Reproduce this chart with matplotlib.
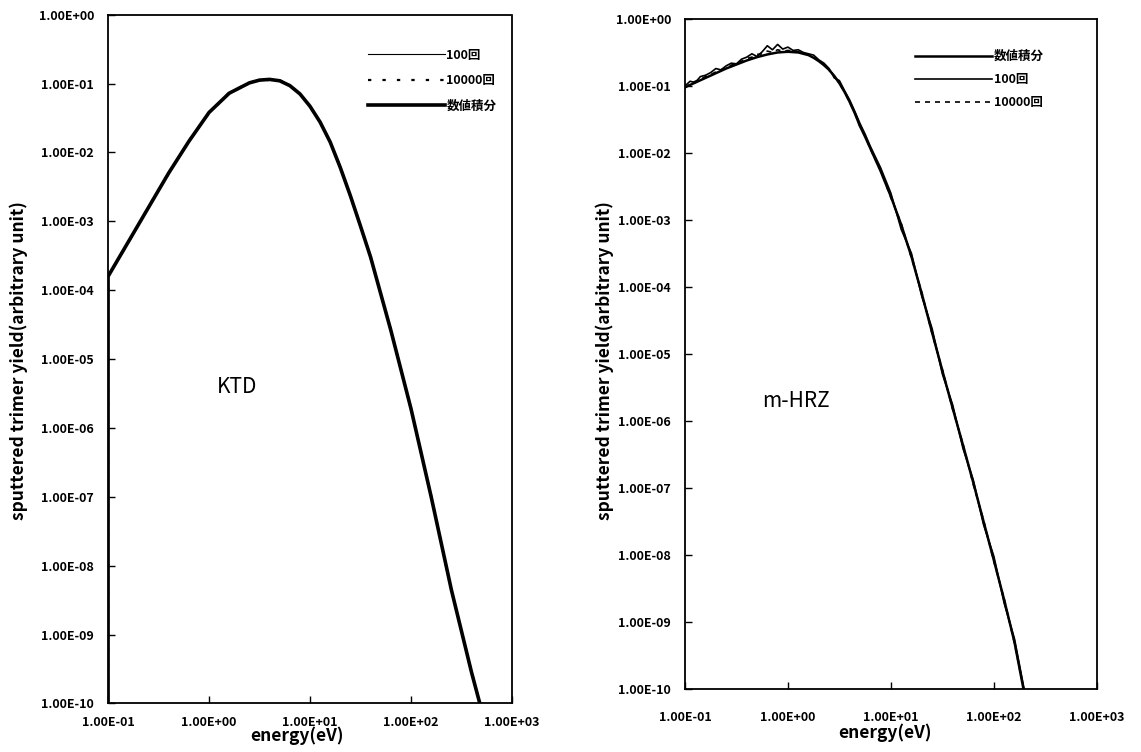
import matplotlib
matplotlib.use("Agg")
import matplotlib.pyplot as plt
import numpy as np
from matplotlib.ticker import FuncFormatter, LogLocator, NullLocator

plt.rcParams["font.family"] = ["Noto Sans CJK JP", "DejaVu Sans"]

# --- KTD (values read as log10) ---
ktd_loge = [-1.0, -1.0, -0.8, -0.6, -0.4, -0.2, 0.0, 0.2, 0.4, 0.5, 0.6, 0.7,
            0.8, 0.9, 1.0, 1.1, 1.2, 1.3, 1.4, 1.5, 1.6, 1.8, 2.0, 2.2, 2.4,
            2.6, 2.7]
ktd_num = [-11.0, -3.80, -3.30, -2.80, -2.30, -1.84, -1.42, -1.14, -0.99, -0.95,
           -0.94, -0.96, -1.03, -1.15, -1.33, -1.56, -1.85, -2.22, -2.63, -3.07,
           -3.52, -4.58, -5.72, -7.00, -8.35, -9.55, -10.10]
ktd_100 = [-11.0, -3.81, -3.29, -2.81, -2.29, -1.85, -1.41, -1.15, -0.98, -0.96,
           -0.93, -0.97, -1.02, -1.16, -1.32, -1.57, -1.84, -2.23, -2.62, -3.08,
           -3.51, -4.59, -5.71, -7.01, -8.34, -9.56, -10.10]
ktd_10000 = [-11.0, -3.80, -3.31, -2.79, -2.31, -1.83, -1.43, -1.13, -0.99, -0.94,
             -0.95, -0.95, -1.04, -1.14, -1.34, -1.55, -1.86, -2.21, -2.64, -3.06,
             -3.53, -4.57, -5.73, -6.99, -8.36, -9.54, -10.10]

# --- m-HRZ (values read as log10) ---
hrz_loge = [-1.00, -0.95, -0.90, -0.85, -0.80, -0.75, -0.70, -0.65, -0.60, -0.55,
            -0.50, -0.45, -0.40, -0.35, -0.30, -0.25, -0.20, -0.15, -0.10, -0.05,
            0.00, 0.05, 0.10, 0.15, 0.20, 0.25, 0.30, 0.35, 0.40, 0.45,
            0.50, 0.55, 0.60, 0.65, 0.70, 0.75, 0.80, 0.90, 1.00, 1.10,
            1.20, 1.30, 1.40, 1.50, 1.60, 1.70, 1.80, 1.90, 2.00, 2.10,
            2.20, 2.30]
hrz_num = [-1.02, -0.985, -0.95, -0.915, -0.88, -0.845, -0.81, -0.775, -0.74, -0.71,
           -0.68, -0.65, -0.62, -0.595, -0.57, -0.55, -0.53, -0.515, -0.50, -0.495,
           -0.49, -0.495, -0.50, -0.52, -0.54, -0.58, -0.63, -0.69, -0.76, -0.85,
           -0.96, -1.09, -1.24, -1.41, -1.60, -1.76, -1.93, -2.27, -2.65, -3.07,
           -3.55, -4.10, -4.68, -5.25, -5.81, -6.36, -6.92, -7.50, -8.08, -8.67,
           -9.30, -10.10]
hrz_100 = [-1.00, -0.93, -0.95, -0.86, -0.84, -0.80, -0.74, -0.76, -0.70, -0.66,
           -0.67, -0.60, -0.57, -0.52, -0.56, -0.49, -0.40, -0.46, -0.38, -0.45,
           -0.42, -0.47, -0.46, -0.50, -0.52, -0.54, -0.61, -0.66, -0.74, -0.88,
           -0.92, -1.07, -1.21, -1.38, -1.56, -1.72, -1.90, -2.22, -2.60, -3.14,
           -3.50, -4.14, -4.62, -5.30, -5.76, -6.41, -6.88, -7.55, -8.02, -8.72,
           -9.25, -10.05]
hrz_10000 = [-1.03, -0.97, -0.93, -0.90, -0.86, -0.83, -0.79, -0.76, -0.72, -0.69,
             -0.65, -0.63, -0.59, -0.57, -0.53, -0.52, -0.48, -0.50, -0.46, -0.48,
             -0.47, -0.48, -0.49, -0.51, -0.53, -0.57, -0.62, -0.68, -0.77, -0.84,
             -0.97, -1.08, -1.25, -1.40, -1.61, -1.75, -1.94, -2.26, -2.67, -3.05,
             -3.57, -4.08, -4.70, -5.23, -5.83, -6.34, -6.95, -7.48, -8.10, -8.65,
             -9.32, -10.08]

fig = plt.figure(figsize=(11.41, 7.52), dpi=100)
ax1 = fig.add_axes([0.0947, 0.0645, 0.354, 0.916])
ax2 = fig.add_axes([0.6003, 0.0838, 0.361, 0.891])


def p10(v):
    return 10.0 ** np.array(v)


def style(ax, xpad):
    ax.set_xscale("log")
    ax.set_yscale("log")
    ax.set_xlim(1e-1, 1e3)
    ax.set_ylim(1e-10, 1)
    ax.xaxis.set_major_locator(LogLocator(base=10, numticks=10))
    ax.yaxis.set_major_locator(LogLocator(base=10, numticks=15))
    ax.xaxis.set_minor_locator(NullLocator())
    ax.yaxis.set_minor_locator(NullLocator())
    fmt = FuncFormatter(lambda v, p: f"{v:.2E}")
    ax.xaxis.set_major_formatter(fmt)
    ax.yaxis.set_major_formatter(fmt)
    ax.tick_params(direction="in", length=5, width=1)
    ax.tick_params(axis="y", pad=10)
    ax.tick_params(axis="x", pad=xpad)
    for t in ax.get_xticklabels() + ax.get_yticklabels():
        t.set_fontsize(9)
        t.set_fontweight("bold")
    for s in ("top", "right"):
        ax.spines[s].set_linestyle((0, (1, 1)))
        ax.spines[s].set_linewidth(1.3)
    for s in ("left", "bottom"):
        ax.spines[s].set_linewidth(1.3)
    ax.set_xlabel("energy(eV)", fontsize=12.5, fontweight="bold")
    ax.set_ylabel("sputtered trimer yield(arbitrary unit)", fontsize=12.5,
                  fontweight="bold")


# left panel
ax1.plot(p10(ktd_loge), p10(ktd_100), color="black", lw=0.8, label="100回")
ax1.plot(p10(ktd_loge), p10(ktd_10000), color="black", lw=1.6,
         linestyle=(0, (1.5, 5)), label="10000回")
ax1.plot(p10(ktd_loge), p10(ktd_num), color="black", lw=2.6, label="数値積分")
style(ax1, 9)
ax1.text(0.32, 0.46, "KTD", transform=ax1.transAxes, fontsize=15,
         ha="center", va="center")
ax1.legend(loc="upper left", bbox_to_anchor=(0.63, 0.958), frameon=False,
           handlelength=6.2, handletextpad=0.1, labelspacing=1.0,
           prop={"size": 9, "weight": "bold"}, borderaxespad=0)
ax1.xaxis.set_label_coords(0.468, -0.034)
ax1.yaxis.set_label_coords(-0.198, 0.498)

# right panel
ax2.plot(p10(hrz_loge), p10(hrz_num), color="black", lw=1.8, label="数値積分")
ax2.plot(p10(hrz_loge), p10(hrz_100), color="black", lw=1.2, label="100回")
ax2.plot(p10(hrz_loge), p10(hrz_10000), color="black", lw=1.2,
         linestyle=(0, (3, 3)), label="10000回")
style(ax2, 16)
ax2.text(0.27, 0.43, "m-HRZ", transform=ax2.transAxes, fontsize=15,
         ha="center", va="center")
ax2.legend(loc="upper left", bbox_to_anchor=(0.546, 0.961), frameon=False,
           handlelength=6.2, handletextpad=0.1, labelspacing=0.8,
           prop={"size": 9, "weight": "bold"}, borderaxespad=0)
ax2.xaxis.set_label_coords(0.485, -0.052)
ax2.yaxis.set_label_coords(-0.172, 0.49)

fig.savefig("out.png", dpi=100, facecolor="white")
